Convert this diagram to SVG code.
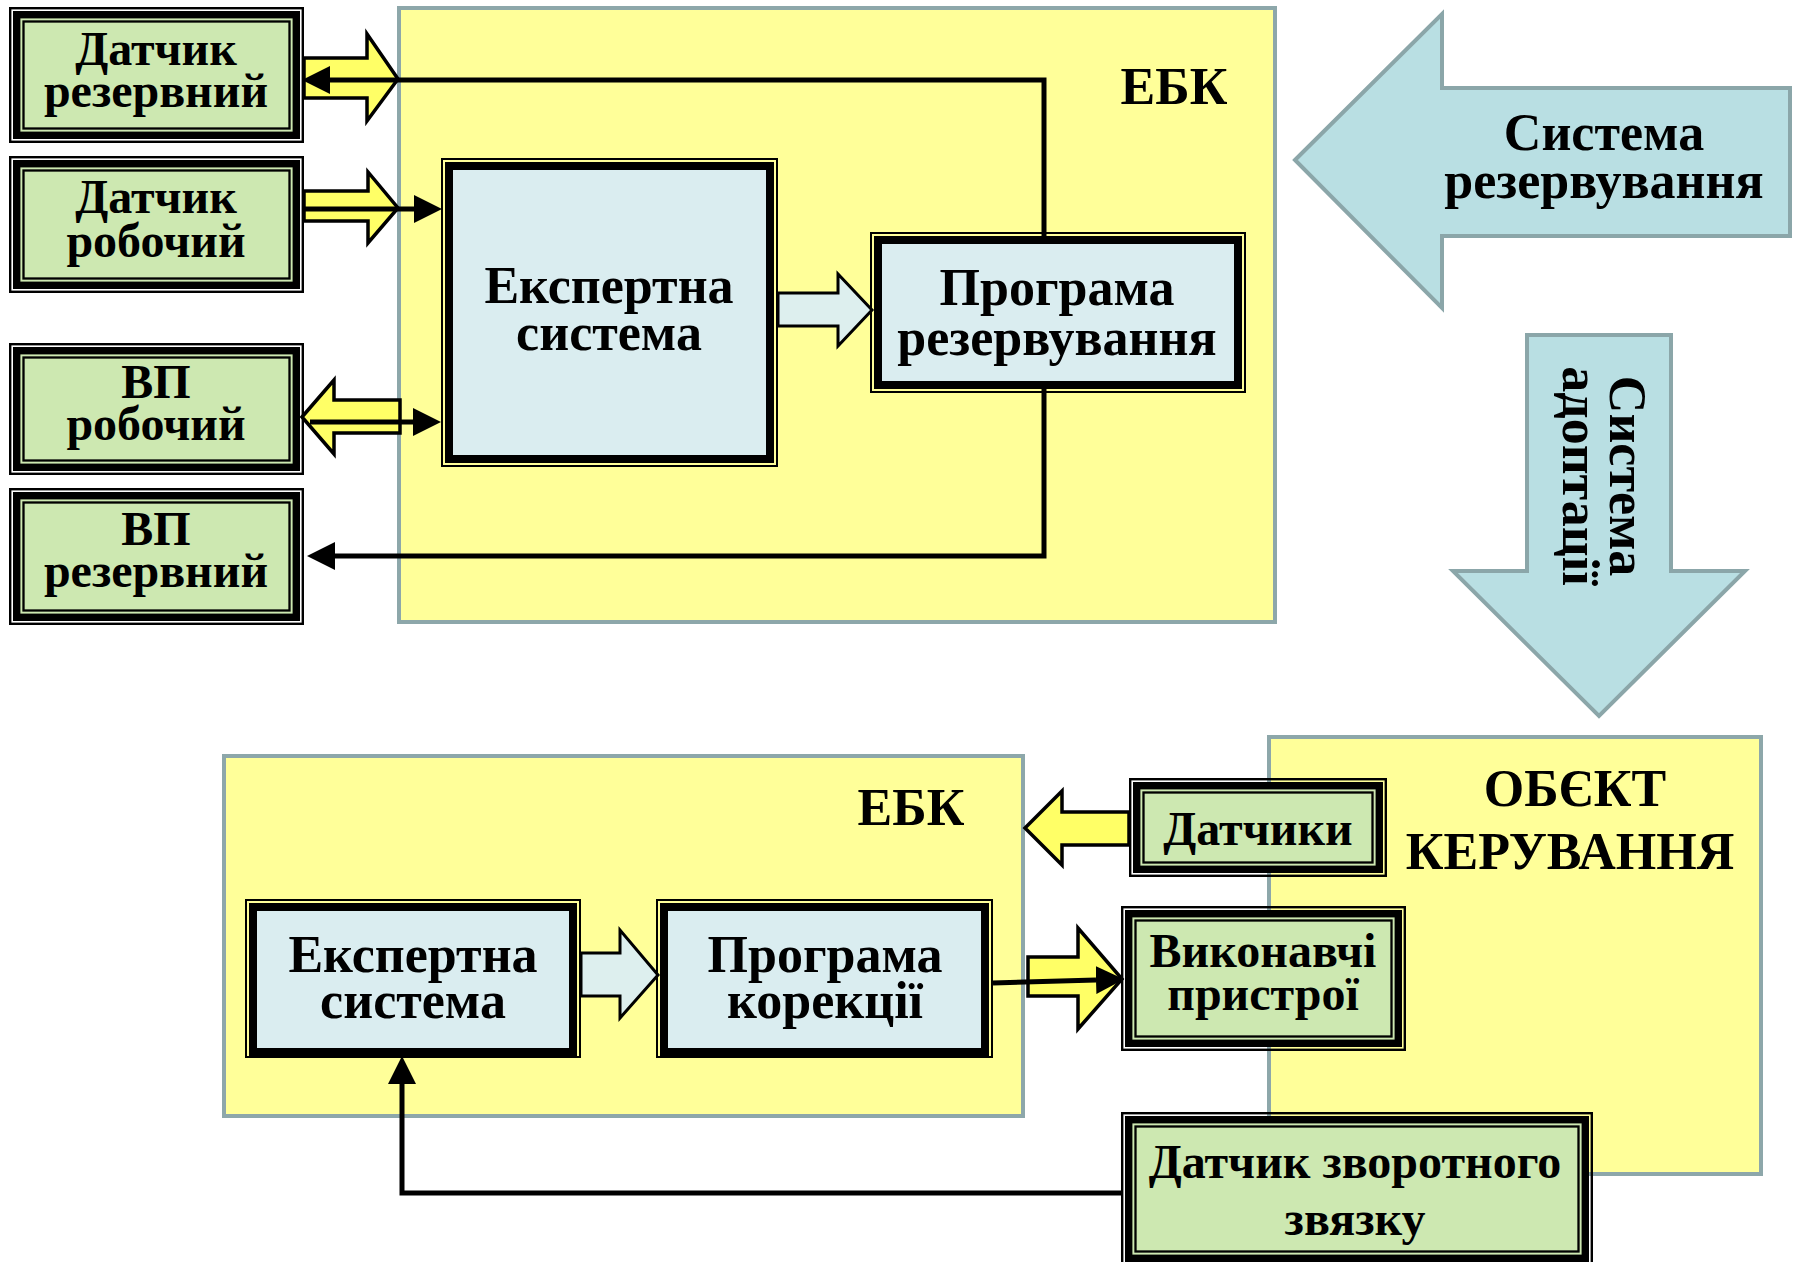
<svg xmlns="http://www.w3.org/2000/svg" width="1796" height="1262" viewBox="0 0 1796 1262">
<style>
.t{font-family:"Liberation Serif","Times New Roman",serif;font-weight:bold;fill:#000;text-anchor:middle}
.s48{font-size:48px}
.s52{font-size:52px}
.cont{fill:#FFFF99;stroke:#8DA7AA;stroke-width:4}
.gthin{fill:none;stroke:#000;stroke-width:2.4}
.gthick{fill:#CDE8B1;stroke:#000;stroke-width:7.4}
.ginner{fill:none;stroke:#000;stroke-width:2.3}
.bthin{fill:none;stroke:#000;stroke-width:2}
.bthick{fill:#DAEDF0;stroke:#000;stroke-width:8}
.yarrow{fill:#FFFF66;stroke:#000;stroke-width:3.5;stroke-linejoin:miter}
.harrow{fill:#DDEFEE;stroke:#000;stroke-width:3}
.barrow{fill:#B9DFE3;stroke:#8BA6A9;stroke-width:4}
.conn{fill:none;stroke:#000;stroke-width:5}
</style>
<defs>
<marker id="ah" markerUnits="userSpaceOnUse" viewBox="0 -14 28 28" refX="0" refY="0" markerWidth="28" markerHeight="28" orient="auto">
<path d="M0,-14 L28,0 L0,14 z" fill="#000"/>
</marker>
</defs>
<rect width="1796" height="1262" fill="#fff"/>

<g id="ebk-top">
<rect class="cont" x="399" y="8" width="876" height="614"/>
<text class="t s52" x="1174" y="104">ЕБК</text>
</g>
<g id="ebk-bottom">
<rect class="cont" x="224" y="756" width="799" height="360"/>
<text class="t s52" x="911" y="825">ЕБК</text>
</g>
<g id="object">
<rect class="cont" x="1269" y="737" width="492" height="437"/>
<text class="t s52" x="1575" y="806">ОБЄКТ</text>
<text class="t s52" x="1570" y="869">КЕРУВАННЯ</text>
</g>

<g id="sys-reserve">
<polygon class="barrow" points="1295,160 1442,14 1442,88 1790,88 1790,236 1442,236 1442,308"/>
<text class="t s52" x="1604" y="150">Система</text>
<text class="t s52" x="1604" y="198">резервування</text>
</g>
<g id="sys-adapt">
<polygon class="barrow" points="1527,335 1671,335 1671,571 1745,571 1599,716 1453,571 1527,571"/>
<g transform="translate(1610,476) rotate(90)">
<text class="t s52" x="0" y="0">Система</text>
<text class="t s52" x="0" y="47">адоптації</text>
</g>
</g>

<g id="sensor-reserve">
<rect class="gthin" x="10.2" y="8.2" width="292.6" height="133.6"/>
<rect class="gthick" x="16.7" y="14.7" width="279.6" height="120.6"/>
<rect class="ginner" x="23.5" y="21.5" width="266" height="107"/>
<text class="t s48" x="156" y="65">Датчик</text>
<text class="t s48" x="156" y="107">резервний</text>
</g>
<g id="sensor-work">
<rect class="gthin" x="10.2" y="157.2" width="292.6" height="134.6"/>
<rect class="gthick" x="16.7" y="163.7" width="279.6" height="121.6"/>
<rect class="ginner" x="23.5" y="170.5" width="266" height="108"/>
<text class="t s48" x="156" y="213">Датчик</text>
<text class="t s48" x="156" y="257">робочий</text>
</g>
<g id="vp-work">
<rect class="gthin" x="10.2" y="344.2" width="292.6" height="129.6"/>
<rect class="gthick" x="16.7" y="350.7" width="279.6" height="116.6"/>
<rect class="ginner" x="23.5" y="357.5" width="266" height="103"/>
<text class="t s48" x="156" y="398">ВП</text>
<text class="t s48" x="156" y="440">робочий</text>
</g>
<g id="vp-reserve">
<rect class="gthin" x="10.2" y="489.2" width="292.6" height="134.6"/>
<rect class="gthick" x="16.7" y="495.7" width="279.6" height="121.6"/>
<rect class="ginner" x="23.5" y="502.5" width="266" height="108"/>
<text class="t s48" x="156" y="545">ВП</text>
<text class="t s48" x="156" y="587">резервний</text>
</g>

<g id="expert-top">
<rect class="bthin" x="442" y="159" width="335" height="307"/>
<rect class="bthick" x="449" y="166" width="321" height="293"/>
<text class="t s52" x="609" y="303">Експертна</text>
<text class="t s52" x="609" y="350">система</text>
</g>
<g id="prog-reserve">
<rect class="bthin" x="871" y="233" width="374" height="159"/>
<rect class="bthick" x="878" y="240" width="360" height="145"/>
<text class="t s52" x="1057" y="305">Програма</text>
<text class="t s52" x="1057" y="355">резервування</text>
</g>
<g id="expert-bottom">
<rect class="bthin" x="246" y="900" width="334" height="157"/>
<rect class="bthick" x="253" y="907" width="320" height="145"/>
<text class="t s52" x="413" y="972">Експертна</text>
<text class="t s52" x="413" y="1018">система</text>
</g>
<g id="prog-correct">
<rect class="bthin" x="657" y="900" width="335" height="157"/>
<rect class="bthick" x="664" y="907" width="321" height="145"/>
<text class="t s52" x="825" y="972">Програма</text>
<text class="t s52" x="825" y="1018">корекції</text>
</g>

<g id="sensors">
<rect class="gthin" x="1130.2" y="779.2" width="255.6" height="96.6"/>
<rect class="gthick" x="1136.7" y="785.7" width="242.6" height="83.6"/>
<rect class="ginner" x="1143.5" y="792.5" width="229" height="70"/>
<text class="t s48" x="1258" y="845">Датчики</text>
</g>
<g id="actuators">
<rect class="gthin" x="1122.2" y="907.2" width="282.6" height="142.6"/>
<rect class="gthick" x="1128.7" y="913.7" width="269.6" height="129.6"/>
<rect class="ginner" x="1135.5" y="920.5" width="256" height="116"/>
<text class="t s48" x="1263" y="967">Виконавчі</text>
<text class="t s48" x="1263" y="1010">пристрої</text>
</g>
<g id="feedback-sensor">
<rect class="gthin" x="1122.2" y="1113.2" width="469.6" height="151.6"/>
<rect class="gthick" x="1128.7" y="1119.7" width="456.6" height="138.6"/>
<rect class="ginner" x="1135.5" y="1126.5" width="443" height="125"/>
<text class="t s48" x="1355" y="1178">Датчик зворотного</text>
<text class="t s48" x="1355" y="1235">звязку</text>
</g>

<g id="connectors">
<polygon class="yarrow" points="304,58 367,58 367,34 398,79 367,121 367,98 304,98"/>
<polygon class="yarrow" points="304,191 368,191 368,172 398,208 368,243 368,221 304,221"/>
<polygon class="yarrow" points="302,417 334,380 334,400 400,400 400,433 334,433 334,454"/>
<polygon class="yarrow" points="1025,828 1062,791 1062,812 1129,812 1129,845 1062,845 1062,865"/>
<polygon class="yarrow" points="1028,957 1078,957 1078,928 1122,979 1078,1029 1078,996 1028,996"/>
<polygon class="harrow" points="778,293 838,293 838,274 872,310 838,346 838,326 778,326"/>
<polygon class="harrow" points="581,953 620,953 620,930 658,975 620,1018 620,996 581,996"/>
<path class="conn" d="M1044,237 V80 H330" marker-end="url(#ah)"/>
<path class="conn" d="M304,209 H414" marker-end="url(#ah)"/>
<path class="conn" d="M310,422 H413" marker-end="url(#ah)"/>
<path class="conn" d="M1044,389 V556 H335" marker-end="url(#ah)"/>
<path class="conn" d="M993,983 L1096,980" marker-end="url(#ah)"/>
<path class="conn" d="M1121,1193 H402 V1084" marker-end="url(#ah)"/>
</g>
</svg>
